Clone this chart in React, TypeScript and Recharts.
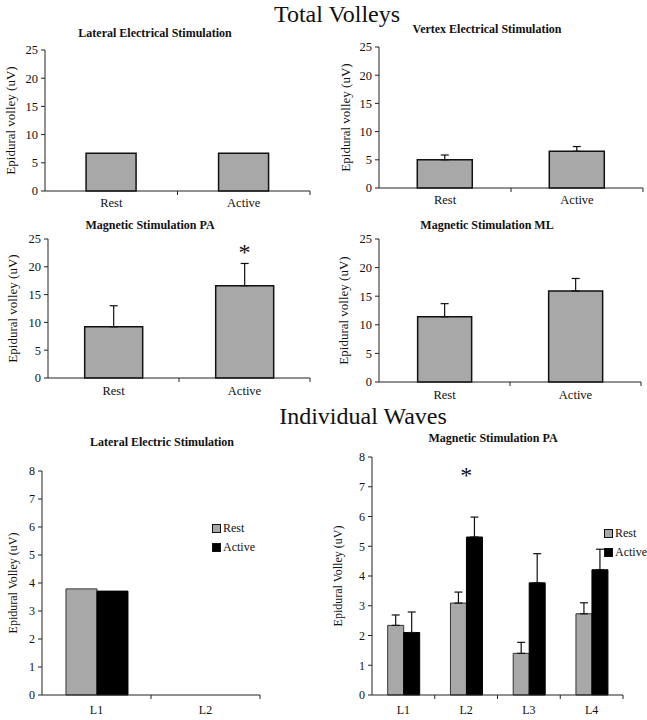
import { BarChart, Bar, XAxis, YAxis, ErrorBar, Legend, ReferenceDot, Label } from "recharts";

const FONT = "'Liberation Serif', 'Times New Roman', serif";

// Total volleys (uV), one value per condition
const conditions = ["Rest", "Active"];
const volleyTicks = [0, 5, 10, 15, 20, 25];
const lateralVolley = [6.7, 6.7];
const vertexVolley = [5.0, 6.5];
const vertexErr = [0.85, 0.85];
const magPaVolley = [9.2, 16.6];
const magPaErr = [3.8, 4.0];
const magMlVolley = [11.4, 15.9];
const magMlErr = [2.3, 2.2];
const magPaStarY = 22.75;

// Individual waves (uV)
const waveTicks = [0, 1, 2, 3, 4, 5, 6, 7, 8];
const seriesNames = ["Rest", "Active"];
const lateralWaves = ["L1", "L2"];
const lateralRest = [3.79, null];
const lateralActive = [3.71, null];
const paWaves = ["L1", "L2", "L3", "L4"];
const paRest = [2.34, 3.09, 1.4, 2.73];
const paRestErr = [0.35, 0.37, 0.37, 0.37];
const paActive = [2.1, 5.31, 3.77, 4.21];
const paActiveErr = [0.69, 0.67, 0.98, 0.69];
const paStarY = 7.41;

const lateralData = conditions.map((name, i) => ({ name, value: lateralVolley[i] }));
const vertexData = conditions.map((name, i) => ({ name, value: vertexVolley[i], err: [0, vertexErr[i]] }));
const magPaData = conditions.map((name, i) => ({ name, value: magPaVolley[i], err: [0, magPaErr[i]] }));
const magMlData = conditions.map((name, i) => ({ name, value: magMlVolley[i], err: [0, magMlErr[i]] }));
const lateralWaveData = lateralWaves.map((name, i) => ({ name, rest: lateralRest[i], active: lateralActive[i] }));
const paWaveData = paWaves.map((name, i) => ({
  name,
  rest: paRest[i],
  restErr: [0, paRestErr[i]],
  active: paActive[i],
  activeErr: [0, paActiveErr[i]],
}));

function BoundaryTick(props: any) {
  const { x, payload, axisY, half, dy, size } = props;
  const off = payload && payload.offset ? payload.offset : half;
  return (
    <g>
      <line x1={x + off} x2={x + off} y1={axisY} y2={axisY + 4} stroke="#222" />
      <text x={x} y={axisY + dy} textAnchor="middle" fontSize={size} fontFamily={FONT}
        style={{ fontFamily: FONT }} fill="#111">
        {payload.value}
      </text>
    </g>
  );
}

function WaveLegend(props: any) {
  const items = [...(props.payload || [])].sort(
    (a: any, b: any) => seriesNames.indexOf(a.value) - seriesNames.indexOf(b.value)
  );
  return (
    <div style={{ fontFamily: FONT, fontSize: 12, color: "#111" }}>
      {items.map((p: any) => (
        <div key={p.value} style={{ display: "flex", alignItems: "center", height: 19, whiteSpace: "nowrap" }}>
          <span
            style={{
              display: "inline-block",
              width: 7,
              height: 7,
              background: p.color,
              border: "1px solid #111",
              marginRight: 2,
            }}
          />
          {p.value}
        </div>
      ))}
    </div>
  );
}

type Box = { x0: number; y0: number; x1: number; y1: number; labelX: number };

function Panel(props: any) {
  const { box, data, ticks, max, yLabel, labelSize, tickSize, tickDy, gap, children } = props;
  const b: Box = box;
  const left = b.labelX - 10;
  const top = b.y0 - 10;
  const yw = b.x0 - left;
  const width = b.x1 - left + 10;
  const height = b.y1 - top + 30;
  const axisY = b.y1 - top;
  const half = (b.x1 - b.x0) / data.length / 2;
  return (
    <div style={{ position: "absolute", left, top }}>
      <BarChart
        width={width}
        height={height}
        data={data}
        margin={{ top: 10, right: 10, left: 0, bottom: 0 }}
        barCategoryGap={gap}
        barGap={0}
      >
        <XAxis
          dataKey="name"
          height={30}
          interval={0}
          axisLine={{ stroke: "#222" }}
          tickLine={false}
          tick={<BoundaryTick axisY={axisY} half={half} dy={tickDy} size={tickSize} />}
        />
        <YAxis
          width={yw}
          domain={[0, max]}
          ticks={ticks}
          interval={0}
          axisLine={{ stroke: "#222" }}
          tickLine={{ stroke: "#222" }}
          tickSize={4}
          tickMargin={3}
          tick={{ fontSize: tickSize, fontFamily: FONT, fill: "#111", style: { fontFamily: FONT } }}
        >
          <Label
            value={yLabel}
            angle={-90}
            position="insideLeft"
            offset={10}
            style={{ textAnchor: "middle", fontSize: labelSize, fontFamily: FONT, fill: "#111" }}
          />
        </YAxis>
        {children}
      </BarChart>
    </div>
  );
}

function Title(props: any) {
  const { x, y, size, bold, children } = props;
  return (
    <div
      style={{
        position: "absolute",
        left: x,
        top: y,
        transform: "translate(-50%, -50%)",
        whiteSpace: "nowrap",
        fontFamily: FONT,
        fontSize: size,
        fontWeight: bold ? "bold" : "normal",
        color: "#111",
      }}
    >
      {children}
    </div>
  );
}

const GREY = "#a8a8a8";
const totalBar = { fill: GREY, stroke: "#111", strokeWidth: 1.5, isAnimationActive: false };
const errStyle = { width: 4, stroke: "#111", strokeWidth: 1.2, direction: "y" as const };
const starLabel = { value: "*", position: "center" as const, fontSize: 24, fontFamily: FONT, fill: "#111" };

export default function App() {
  return (
    <div style={{ position: "absolute", left: 0, top: 0, width: 647, height: 720, background: "#fff", overflow: "hidden" }}>
      <Title x={337} y={14} size={24}>Total Volleys</Title>

      <Title x={155} y={33} size={12} bold>Lateral Electrical Stimulation</Title>
      <Panel box={{ x0: 45, y0: 50, x1: 310, y1: 191, labelX: 10 }} data={lateralData} ticks={volleyTicks} max={25}
        yLabel="Epidural volley (uV)" labelSize={13} tickSize={12.5} tickDy={16} gap="31%">
        <Bar dataKey="value" {...totalBar} />
      </Panel>

      <Title x={487} y={29} size={12} bold>Vertex Electrical Stimulation</Title>
      <Panel box={{ x0: 379, y0: 47, x1: 643, y1: 188, labelX: 345 }} data={vertexData} ticks={volleyTicks} max={25}
        yLabel="Epidural volley (uV)" labelSize={13} tickSize={12.5} tickDy={16} gap="29%">
        <Bar dataKey="value" {...totalBar}>
          <ErrorBar dataKey="err" {...errStyle} />
        </Bar>
      </Panel>

      <Title x={150} y={225} size={12} bold>Magnetic Stimulation PA</Title>
      <Panel box={{ x0: 48, y0: 239, x1: 310, y1: 378, labelX: 12 }} data={magPaData} ticks={volleyTicks} max={25}
        yLabel="Epidural volley (uV)" labelSize={13} tickSize={12.5} tickDy={17} gap="28%">
        <Bar dataKey="value" {...totalBar}>
          <ErrorBar dataKey="err" {...errStyle} />
        </Bar>
        <ReferenceDot x="Active" y={magPaStarY} r={0} fill="none" stroke="none" label={starLabel} />
      </Panel>

      <Title x={487} y={225} size={12} bold>Magnetic Stimulation ML</Title>
      <Panel box={{ x0: 379, y0: 239, x1: 641, y1: 382, labelX: 343 }} data={magMlData} ticks={volleyTicks} max={25}
        yLabel="Epidural volley (uV)" labelSize={13} tickSize={12.5} tickDy={17} gap="29.5%">
        <Bar dataKey="value" {...totalBar}>
          <ErrorBar dataKey="err" {...errStyle} />
        </Bar>
      </Panel>

      <Title x={363} y={416} size={24}>Individual Waves</Title>

      <Title x={162} y={442} size={12} bold>Lateral Electric Stimulation</Title>
      <Panel box={{ x0: 42, y0: 471, x1: 260, y1: 695, labelX: 13 }} data={lateralWaveData} ticks={waveTicks} max={8}
        yLabel="Epidural Volley (uV)" labelSize={12} tickSize={12} tickDy={19} gap="22%">
        <Bar dataKey="rest" name="Rest" fill={GREY} stroke="#333" strokeWidth={1} isAnimationActive={false} />
        <Bar dataKey="active" name="Active" fill="#000" stroke="#000" strokeWidth={1} isAnimationActive={false} />
        <Legend layout="vertical" align="center" verticalAlign="middle" content={<WaveLegend />}
          wrapperStyle={{ left: 209, top: 58, width: "auto" }} />
      </Panel>

      <Title x={493} y={438} size={12} bold>Magnetic Stimulation PA</Title>
      <Panel box={{ x0: 372, y0: 457, x1: 623, y1: 695, labelX: 338 }} data={paWaveData} ticks={waveTicks} max={8}
        yLabel="Epidural Volley (uV)" labelSize={12} tickSize={12} tickDy={19} gap="25%">
        <Bar dataKey="rest" name="Rest" fill={GREY} stroke="#333" strokeWidth={1} isAnimationActive={false}>
          <ErrorBar dataKey="restErr" {...errStyle} />
        </Bar>
        <Bar dataKey="active" name="Active" fill="#000" stroke="#000" strokeWidth={1} isAnimationActive={false}>
          <ErrorBar dataKey="activeErr" {...errStyle} />
        </Bar>
        <ReferenceDot x="L2" y={paStarY} r={0} fill="none" stroke="none" label={starLabel} />
        <Legend layout="vertical" align="center" verticalAlign="middle" content={<WaveLegend />}
          wrapperStyle={{ left: 276, top: 77, width: "auto" }} />
      </Panel>
    </div>
  );
}
